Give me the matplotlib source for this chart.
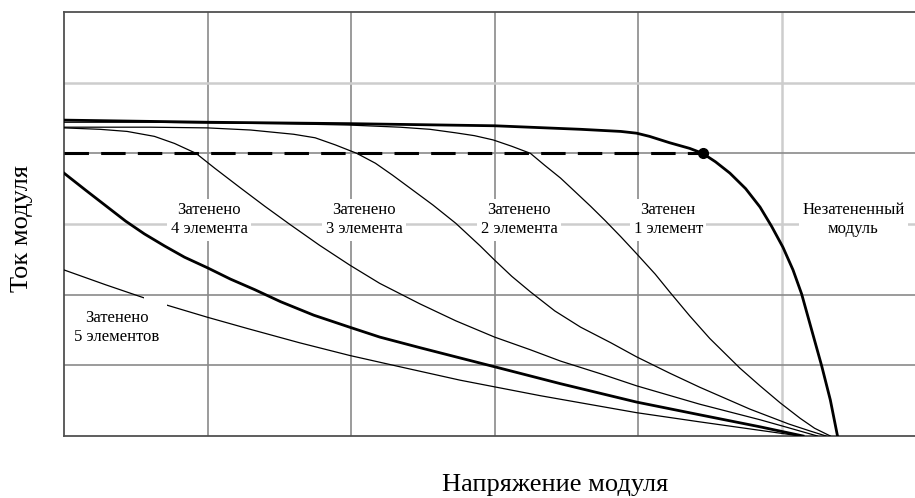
import matplotlib
matplotlib.use("Agg")
import matplotlib.pyplot as plt
from matplotlib.patches import Rectangle

plt.rcParams["font.family"] = ["Liberation Serif", "DejaVu Serif"]

# I-V curves of a PV module with shaded cells (grid units: V along x, I along y)
unshaded_v = [0, 1.0, 1.99, 3.0, 3.6, 3.74, 3.88, 3.99, 4.08, 4.22, 4.36, 4.45, 4.54, 4.64, 4.75, 4.85,
              4.93, 5.01, 5.08, 5.14, 5.21, 5.28, 5.34, 5.39]
unshaded_i = [4.47, 4.44, 4.42, 4.39, 4.34, 4.325, 4.31, 4.285, 4.24, 4.15, 4.07, 4.0, 3.88, 3.72, 3.50, 3.24,
              2.97, 2.67, 2.35, 2.01, 1.50, 0.99, 0.51, 0]

shade1_v = [0, 0.60, 1.0, 1.51, 1.99, 2.34, 2.55, 2.73, 2.86, 2.99, 3.12, 3.25, 3.35, 3.46, 3.56, 3.67,
            3.77, 3.88, 3.99, 4.12, 4.22, 4.36, 4.50, 4.61, 4.71, 4.85, 4.99, 5.13, 5.23, 5.34]
shade1_i = [4.44, 4.44, 4.43, 4.42, 4.40, 4.37, 4.34, 4.29, 4.25, 4.19, 4.10, 4.0, 3.83, 3.65, 3.46, 3.25,
            3.05, 2.82, 2.58, 2.29, 2.04, 1.70, 1.38, 1.16, 0.96, 0.71, 0.47, 0.25, 0.11, 0]

shade2_v = [0, 0.60, 1.0, 1.30, 1.60, 1.75, 1.89, 2.04, 2.17, 2.29, 2.43, 2.57, 2.73, 2.90, 3.0, 3.12,
            3.25, 3.42, 3.60, 3.81, 3.99, 4.22, 4.43, 4.78, 5.05, 5.20, 5.31]
shade2_i = [4.37, 4.37, 4.36, 4.33, 4.27, 4.22, 4.12, 4.0, 3.86, 3.69, 3.48, 3.27, 3.01, 2.69, 2.49, 2.26,
            2.04, 1.77, 1.54, 1.32, 1.12, 0.89, 0.69, 0.38, 0.17, 0.07, 0]

shade3_v = [0, 0.25, 0.44, 0.63, 0.77, 0.92, 1.05, 1.23, 1.40, 1.57, 1.78, 1.99, 2.20, 2.48, 2.73, 3.0,
            3.25, 3.46, 3.74, 3.99, 4.43, 4.85, 5.06, 5.25]
shade3_i = [4.36, 4.34, 4.31, 4.24, 4.14, 4.0, 3.79, 3.51, 3.25, 3.0, 2.70, 2.42, 2.16, 1.87, 1.63, 1.40,
            1.22, 1.06, 0.88, 0.71, 0.45, 0.23, 0.11, 0]

shade4_v = [0, 0.15, 0.29, 0.43, 0.56, 0.70, 0.84, 1.0, 1.16, 1.33, 1.51, 1.74, 1.99, 2.20, 2.48, 2.73,
            3.0, 3.46, 3.99, 4.43, 4.85, 5.15]
shade4_i = [3.72, 3.48, 3.26, 3.04, 2.86, 2.69, 2.53, 2.38, 2.22, 2.07, 1.90, 1.71, 1.54, 1.40, 1.25, 1.12,
            0.98, 0.74, 0.48, 0.30, 0.13, 0]

shade5_v = [0, 0.29, 0.55, 0.72, 1.0, 1.28, 1.64, 1.99, 2.34, 2.76, 3.32, 3.99, 4.43, 4.85, 5.13]
shade5_i = [2.35, 2.14, 1.96, 1.85, 1.68, 1.52, 1.32, 1.14, 0.98, 0.79, 0.57, 0.33, 0.20, 0.08, 0]

# operating point and the dashed current level
mpp_v, mpp_i = 4.45, 4.0

labels = ["Затенено\n5 элементов", "Затенено\n4 элемента", "Затенено\n3 элемента",
          "Затенено\n2 элемента", "Затенен\n1 элемент", "Незатененный\nмодуль"]
label_v = [0.37, 1.01, 2.09, 3.17, 4.21, 5.50]
label_i = [1.54, 3.06, 3.06, 3.06, 3.06, 3.06]

fig = plt.figure(figsize=(9.15, 4.98), dpi=100)
ax = fig.add_axes([64 / 915, 62 / 498, 1 - 64 / 915, 424 / 498])
ax.set_xlim(0, 5.93)
ax.set_ylim(0, 6)
ax.set_xticks([])
ax.set_yticks([])

dark, light = "#8a8a8a", "#cdcdcd"
for v in [1, 2, 3, 4]:
    ax.axvline(v, color=dark, lw=1.2, zorder=1)
ax.axvline(5, color=light, lw=1.8, zorder=1)
for i in [1, 2, 4]:
    ax.axhline(i, color=dark, lw=1.2, zorder=1)
for i in [3, 5]:
    ax.axhline(i, color=light, lw=1.8, zorder=1)

for name in ["left", "bottom", "top"]:
    ax.spines[name].set_color("#505050")
    ax.spines[name].set_linewidth(1.3)
ax.spines["right"].set_visible(False)

thin = dict(color="black", lw=0.9, zorder=3)
thick = dict(color="black", lw=2.0, zorder=3)
ax.plot(unshaded_v, unshaded_i, **thick)
ax.plot(shade1_v, shade1_i, **thin)
ax.plot(shade2_v, shade2_i, **thin)
ax.plot(shade3_v, shade3_i, **thin)
ax.plot(shade4_v, shade4_i, **thick)
ax.plot(shade5_v, shade5_i, **thin)

ax.plot([0, mpp_v], [mpp_i, mpp_i], color="black", lw=2.2, ls=(0, (8, 4)), zorder=3)
ax.plot([mpp_v], [mpp_i], "o", color="black", ms=7, zorder=4)

# small break in the 5-element curve just above its label, as in the original
ax.add_patch(Rectangle((0.56, 1.72), 0.16, 0.26, fc="white", ec="none", zorder=4))

for txt, v, i in zip(labels, label_v, label_i):
    ax.text(v, i, txt, ha="center", va="center", fontsize=12, linespacing=1.25, zorder=5,
            bbox=dict(boxstyle="square,pad=0.2", fc="white", ec="none"))

fig.text(22 / 915, 1 - 228 / 498, "Ток модуля", rotation=90, ha="center", va="center", fontsize=19)
fig.text(555 / 915, 1 - 485 / 498, "Напряжение модуля", ha="center", va="center", fontsize=19)

fig.savefig("out.png", dpi=100)
